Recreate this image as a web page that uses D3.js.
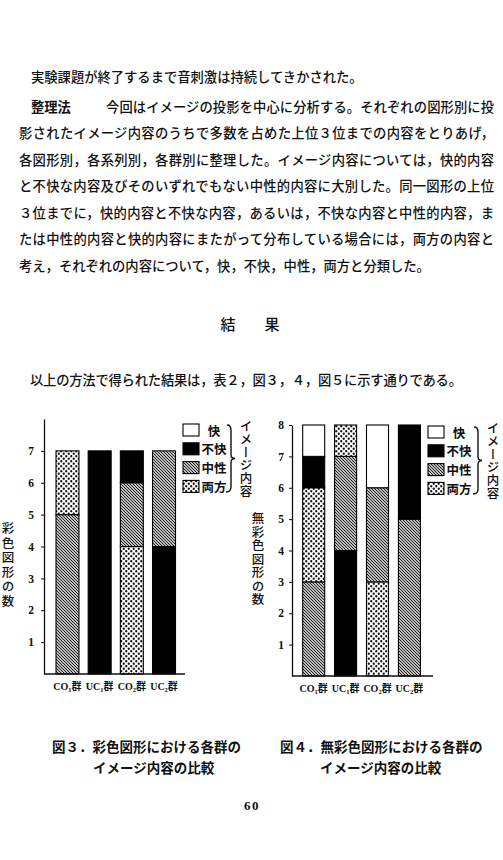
<!DOCTYPE html>
<html>
<head>
<meta charset="utf-8">
<script src="https://cdn.jsdelivr.net/npm/d3@7"></script>
<style>
	body { margin: 0; background: #fff; }
	svg text { font-family: "Noto Sans CJK JP", "Noto Sans", sans-serif; fill: #111; }
	.num { font-family: "Liberation Serif", serif; font-weight: bold; }
	.vt { writing-mode: vertical-rl; }
</style>
</head>
<body>
<svg id="page" width="503" height="860"></svg>
<script>
"use strict";

// 図3: 彩色図形, 図4: 無彩色図形 -- segments listed bottom to top
var groups = ["CO1", "UC1", "CO2", "UC2"];
var kinds = ["快", "不快", "中性", "両方"];
var colourCounts = [
	[["中性", 5], ["両方", 2]],
	[["不快", 7]],
	[["両方", 4], ["中性", 2], ["不快", 1]],
	[["不快", 4], ["中性", 3]]
];
var achroCounts = [
	[["中性", 3], ["両方", 3], ["不快", 1], ["快", 1]],
	[["不快", 4], ["中性", 3], ["両方", 1]],
	[["両方", 3], ["中性", 3], ["快", 2]],
	[["中性", 5], ["不快", 3]]
];
var colourTicks = [1, 2, 3, 4, 5, 6, 7];
var achroTicks = [1, 2, 3, 4, 5, 6, 7, 8];

var svg = d3.select("#page");

// fill patterns
var defs = svg.append("defs");
var hatch = defs.append("pattern").attr("id", "hatch")
	.attr("patternUnits", "userSpaceOnUse").attr("width", 3).attr("height", 3);
hatch.append("rect").attr("width", 3).attr("height", 3).attr("fill", "#fff");
hatch.append("path").attr("d", "M-1,-1L4,4M-1,2L1,4M2,-1L4,1")
	.attr("stroke", "#1a1a1a").attr("stroke-width", 1.1);
var dots = defs.append("pattern").attr("id", "dots")
	.attr("patternUnits", "userSpaceOnUse").attr("width", 5).attr("height", 5);
dots.append("rect").attr("width", 5).attr("height", 5).attr("fill", "#fff");
dots.append("circle").attr("cx", 1.25).attr("cy", 1.25).attr("r", 1.15).attr("fill", "#111");
dots.append("circle").attr("cx", 3.75).attr("cy", 3.75).attr("r", 1.15).attr("fill", "#111");

var fills = {"快": "#fff", "不快": "#000", "中性": "url(#hatch)", "両方": "url(#dots)"};

// ---- body text ----
var fs = 13.3;
function line(str, x, y, len, bold) {
	var t = svg.append("text").attr("x", x).attr("y", y)
		.attr("dominant-baseline", "central")
		.attr("font-size", fs).attr("font-weight", bold ? "bold" : 500)
		.text(str);
	if (len) t.attr("textLength", len).attr("lengthAdjust", "spacing");
	return t;
}
var left = 19, right = 494;
line("実験課題が終了するまで音刺激は持続してきかされた。", 31, 76);
line("整理法", 31, 106, null, true);
line("今回はイメージの投影を中心に分析する。それぞれの図形別に投", 106, 106, right - 106);
line("影されたイメージ内容のうちで多数を占めた上位３位までの内容をとりあげ，", left, 132, right - left);
line("各図形別，各系列別，各群別に整理した。イメージ内容については，快的内容", left, 159, right - left);
line("と不快な内容及びそのいずれでもない中性的内容に大別した。同一図形の上位", left, 185, right - left);
line("３位までに，快的内容と不快な内容，あるいは，不快な内容と中性的内容，ま", left, 212, right - left);
line("たは中性的内容と快的内容にまたがって分布している場合には，両方の内容と", left, 238, right - left);
line("考え，それぞれの内容について，快，不快，中性，両方と分類した。", left, 265);

svg.append("text").attr("x", 228).attr("y", 323).attr("text-anchor", "middle")
	.attr("dominant-baseline", "central").attr("font-size", 15).attr("font-weight", 500).text("結");
svg.append("text").attr("x", 272).attr("y", 323).attr("text-anchor", "middle")
	.attr("dominant-baseline", "central").attr("font-size", 15).attr("font-weight", 500).text("果");
line("以上の方法で得られた結果は，表２，図３，４，図５に示す通りである。", 30, 379, 432);

// ---- charts ----
function stackedChart(cfg) {
	var g = svg.append("g");
	var y = d3.scaleLinear().domain([0, 8]).range([cfg.y0, cfg.yTop]);
	var x = d3.scaleBand().domain(groups).range(cfg.band)
		.paddingInner(cfg.pi).paddingOuter(cfg.po);

	// bars
	cfg.data.forEach(function(segs, i) {
		var base = 0;
		segs.forEach(function(s) {
			g.append("rect")
				.attr("x", x(groups[i]))
				.attr("width", x.bandwidth())
				.attr("y", y(base + s[1]))
				.attr("height", y(base) - y(base + s[1]))
				.attr("fill", fills[s[0]])
				.attr("stroke", "#000").attr("stroke-width", 1.1);
			base += s[1];
		});
	});

	// y axis
	var ya = g.append("g").attr("transform", "translate(" + cfg.axisX + ",0)")
		.call(d3.axisLeft(y).tickValues(cfg.ticks).tickSize(3).tickSizeOuter(0)
			.tickFormat(d3.format("d")));
	ya.select(".domain").attr("stroke", "#111").attr("stroke-width", 1.3);
	ya.selectAll(".tick line").attr("stroke", "#111");
	ya.selectAll(".tick text").attr("class", "num").attr("font-size", 11.5)
		.attr("x", -cfg.labelGap).attr("fill", "#111");

	// baseline
	g.append("line").attr("x1", cfg.axisX).attr("x2", cfg.xEnd)
		.attr("y1", y(0)).attr("y2", y(0))
		.attr("stroke", "#111").attr("stroke-width", 1.3);

	// group labels with subscripts
	groups.forEach(function(name) {
		var t = g.append("text").attr("class", "num")
			.attr("x", x(name) + x.bandwidth() / 2).attr("y", cfg.labelY)
			.attr("text-anchor", "middle").attr("font-size", 10);
		t.append("tspan").text(name.slice(0, 2));
		t.append("tspan").attr("font-size", 6.5).attr("dy", 2).text(name.slice(2));
		t.append("tspan").attr("dy", -2).attr("font-family", "Noto Sans CJK JP").text("群");
	});

	// axis title, vertical
	g.append("text").attr("class", "vt")
		.attr("x", cfg.titleX).attr("y", cfg.titleY)
		.attr("font-size", 12.5).attr("font-weight", 500).attr("letter-spacing", cfg.titleSp)
		.text(cfg.title);

	// legend
	var ly = d3.scalePoint().domain(kinds).range([cfg.legY, cfg.legY + 56.4]);
	kinds.forEach(function(k) {
		g.append("rect").attr("x", cfg.legX).attr("y", ly(k) - 6)
			.attr("width", 16).attr("height", 12)
			.attr("fill", fills[k]).attr("stroke", "#000").attr("stroke-width", 1.1);
		g.append("text").attr("x", cfg.legX + 31).attr("y", ly(k))
			.attr("text-anchor", "middle").attr("dominant-baseline", "central")
			.attr("font-size", 12.5).attr("font-weight", "bold").text(k);
	});
	var bx = cfg.braceX, t0 = cfg.legY - 5, t1 = cfg.legY + 62, m = (t0 + t1) / 2;
	g.append("path")
		.attr("d", "M" + bx + "," + t0 + "Q" + (bx + 4) + "," + t0 + " " + (bx + 4) + "," + (t0 + 5) +
			"L" + (bx + 4) + "," + (m - 4) + "Q" + (bx + 4) + "," + m + " " + (bx + 8) + "," + m +
			"Q" + (bx + 4) + "," + m + " " + (bx + 4) + "," + (m + 4) +
			"L" + (bx + 4) + "," + (t1 - 5) + "Q" + (bx + 4) + "," + t1 + " " + (bx - 1) + "," + t1)
		.attr("fill", "none").attr("stroke", "#111").attr("stroke-width", 1.4);
	g.append("text").attr("class", "vt")
		.attr("x", bx + 19).attr("y", cfg.legY - 10)
		.attr("font-size", 12.5).attr("font-weight", 500).attr("letter-spacing", 0.6)
		.text("イメージ内容");
}

stackedChart({
	data: colourCounts, ticks: colourTicks,
	y0: 674, yTop: 419, axisX: 44, band: [51.5, 180], pi: 0.286, po: 0.14,
	xEnd: 185, labelY: 690, labelGap: 10,
	title: "彩色図形の数", titleX: 8, titleY: 522, titleSp: 2,
	legX: 183, legY: 430, braceX: 227
});
stackedChart({
	data: achroCounts, ticks: achroTicks,
	y0: 676, yTop: 425, axisX: 292, band: [296.3, 426.8], pi: 0.31, po: 0.2,
	xEnd: 433, labelY: 692, labelGap: 8,
	title: "無彩色図形の数", titleX: 258, titleY: 512, titleSp: 1,
	legX: 428, legY: 432, braceX: 474
});

// captions
function caption(str, x, y) {
	svg.append("text").attr("x", x).attr("y", y).attr("dominant-baseline", "central")
		.attr("font-size", 13.5).attr("font-weight", "bold").text(str);
}
caption("図３．彩色図形における各群の", 52, 746);
caption("イメージ内容の比較", 93, 767);
caption("図４．無彩色図形における各群の", 280, 746);
caption("イメージ内容の比較", 320, 767);

svg.append("text").attr("class", "num").attr("x", 252).attr("y", 805)
	.attr("text-anchor", "middle").attr("dominant-baseline", "central")
	.attr("font-size", 13).attr("letter-spacing", 1.5).text("60");
</script>
</body>
</html>
